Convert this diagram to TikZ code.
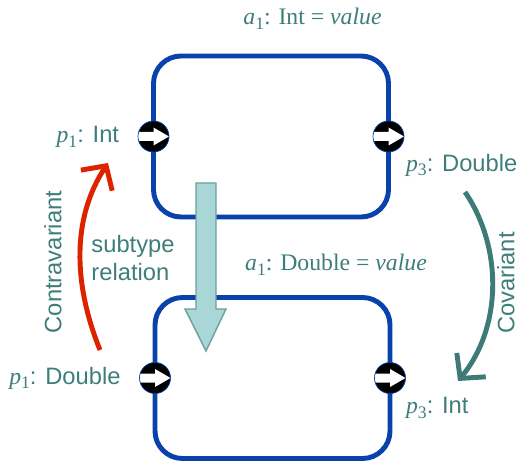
\documentclass[tikz,border=0pt]{standalone}
\usepackage{fontspec}
\setmainfont{Liberation Serif}
\setsansfont{Liberation Sans}
\usetikzlibrary{arrows.meta,positioning,calc}
\definecolor{boxblue}{RGB}{8,66,170}
\definecolor{labteal}{RGB}{62,126,122}
\definecolor{varteal}{RGB}{62,122,120}
\definecolor{varred}{RGB}{221,34,0}
\definecolor{subfill}{RGB}{169,214,214}
\definecolor{subdraw}{RGB}{110,158,158}
\newcommand{\pvar}[2]{\textit{#1}\raisebox{-0.45ex}{\fontsize{10}{12}\selectfont #2}}

\begin{document}
\begin{tikzpicture}[
        comp/.style={
            draw=boxblue,
            line width=2.8pt,
            rounded corners=0.55cm,
            minimum width=4.7cm,
            minimum height=3.22cm,
            outer sep=0pt
        },
        port/.style={
            circle,
            fill=black,
            draw=boxblue,
            line width=0.4pt,
            minimum size=0.62cm,
            inner sep=0pt,
            path picture={
                \fill[white]
                ($(path picture bounding box.center)+(-0.32,0.09)$) -- ++(0.32,0) -- ++(0,0.09) --
                ++(0.31,-0.18) -- ++(-0.31,-0.18) -- ++(0,0.09) -- ++(-0.32,0) -- cycle;
            }
        },
        lab/.style={text=labteal, inner sep=1pt, font=\fontsize{13.5}{16}\selectfont},
        sublab/.style={lab, font=\fontsize{13.5}{16}\selectfont\sffamily, align=left},
        var/.style={line width=2.8pt, -{Straight Barb[length=3.5mm, width=7.5mm]}}
    ]
        \useasboundingbox (0,0) rectangle (10.4,9.24);

        \node[comp] (upper) at (5.42,6.51) {};
        \node[comp] (lower) at (5.45,1.68) {};

        % subtype arrow, over both boxes
        \draw[subdraw, fill=subfill, line width=0.8pt]
            (3.92,5.58) -- (4.32,5.58) -- (4.32,3.06) -- (4.52,3.06) --
            (4.12,2.22) -- (3.70,3.06) -- (3.92,3.06) -- cycle;

        \node[port] (inup)   at (upper.west) {};
        \node[port] (outup)  at (upper.east) {};
        \node[port] (inlow)  at (lower.west) {};
        \node[port] (outlow) at (lower.east) {};

        \node[lab] (attrup)  at (6.25,8.86) {\pvar{a}{1}: Int = \textit{value}};
        \node[lab] (attrlow) at (6.72,3.94) {\pvar{a}{1}: Double = \textit{value}};

        \node[lab, left=0.33cm of inup]  (pinup)  {\pvar{p}{1}\sffamily: Int};
        \node[lab, left=0.33cm of inlow] (pinlow) {\pvar{p}{1}\sffamily: Double};
        \node[lab, anchor=west] (poutup)  at (8.08,5.94) {\pvar{p}{3}\sffamily: Double};
        \node[lab, anchor=west] (poutlow) at (8.08,1.08) {\pvar{p}{3}\sffamily: Int};

        \node[sublab] (subrel) at (2.66,4.08) {subtype\\relation};
        \node[sublab, rotate=90] (contra) at (1.06,4.0) {Contravariant};
        \node[sublab, rotate=90, inner sep=0pt] (cov) at (10.12,3.58) {Covariant};

        \coordinate (contrafrom) at (2.0,2.24);
        \coordinate (contrato)   at (2.16,5.98);
        \coordinate (covfrom)    at (9.30,5.40);
        \coordinate (covto)      at (9.16,1.62);

        \draw[var, varred]  (contrafrom) .. controls (1.45,3.6) and (1.45,4.9) .. (contrato);
        \draw[var, varteal] (covfrom) .. controls (10.05,4.3) and (10.05,2.7) .. (covto);
    \end{tikzpicture}
\end{document}
